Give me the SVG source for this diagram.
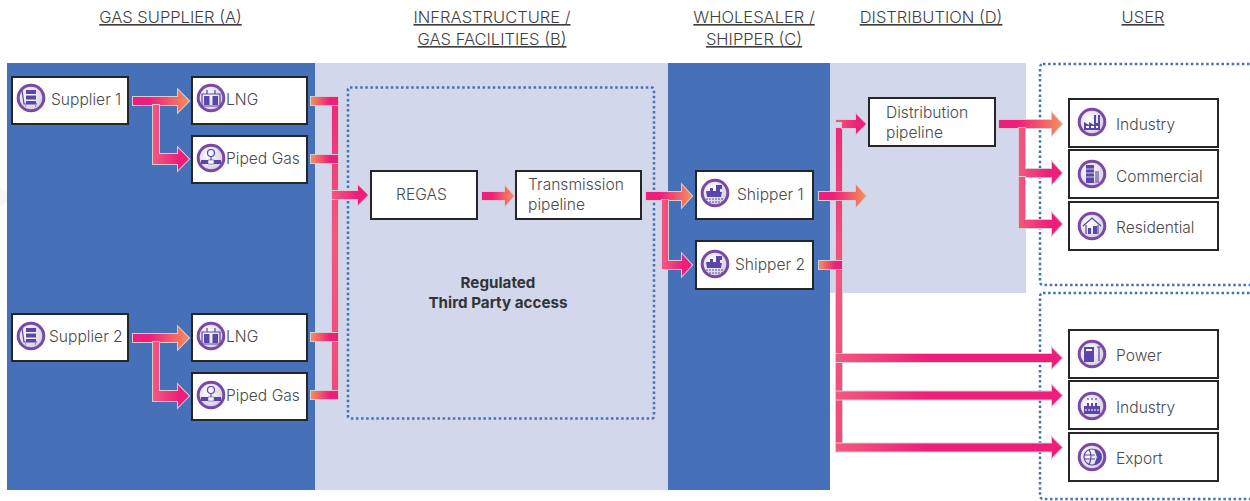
<svg xmlns="http://www.w3.org/2000/svg" width="1250" height="501" viewBox="0 0 1250 501">
<style>
text{font-family:"Inter","Liberation Sans",sans-serif;font-weight:300;font-size:15.6px;fill:#4a4a4a}
.h{font-size:16.5px;text-anchor:middle;text-decoration:underline;fill:#3f3f3f}
.b{font-weight:700;font-size:15.2px;text-anchor:middle;fill:#333}
.box{fill:#fff;stroke:#262626;stroke-width:2}
.dot{fill:none;stroke:#4472b8;stroke-width:2.5;stroke-dasharray:2.5 2.6}
.c{stroke:#d4ced2;stroke-width:2;paint-order:stroke}
.po{fill:url(#po)}.op{fill:url(#op)}.lp{fill:url(#lp)}.ll{fill:url(#ll)}.v{fill:url(#v)}
.g{fill:#5a46a8;stroke:none}.gl{fill:none;stroke:#5a46a8;stroke-width:1.2}
</style>
<defs>
<linearGradient id="po"><stop offset=".3" stop-color="#ee1f7a"/><stop offset="1" stop-color="#f68f59"/></linearGradient>
<linearGradient id="op"><stop offset="0" stop-color="#f68f59"/><stop offset=".7" stop-color="#ee1f7a"/></linearGradient>
<linearGradient id="lp"><stop offset="0" stop-color="#f2597f"/><stop offset=".7" stop-color="#ee1f7a"/></linearGradient>
<linearGradient id="ll"><stop offset="0" stop-color="#f2597f"/><stop offset=".4" stop-color="#ee1f7a"/></linearGradient>
<linearGradient id="v" x1="0" y1="0" x2="0" y2="1"><stop offset="0" stop-color="#ee2a7b"/><stop offset=".45" stop-color="#f2597f"/><stop offset="1" stop-color="#f04a7d"/></linearGradient>
<radialGradient id="disc" cx=".4" cy=".4" r=".75"><stop offset="0" stop-color="#fff"/><stop offset="1" stop-color="#c9c5d6"/></radialGradient>
<g id="ring"><circle r="12.8" fill="url(#disc)" stroke="#7a48a6" stroke-width="3"/></g>
<g id="i-sup"><use href="#ring"/><path class="g" d="M-5-8h10v4h-10zM-5-2.500h10v4h-10zM-5 3h10v3h-10z"/><path class="gl" d="M-9-8l2 14h13M-6 8h1M4 8h1"/></g>
<g id="i-lng"><use href="#ring"/><path class="gl" d="M-9-4h18v12h-18z"/><path class="g" d="M-7-2h5.500v9h-5.500zM1.500-2h5.500v9h-5.500z"/><path class="gl" d="M-4-8v4M4-8v4"/></g>
<g id="i-pipe"><use href="#ring"/><circle cy="-5" r="3.500" class="gl"/><path class="gl" d="M0-1.500v4"/><path class="g" d="M-10 2h7v4h-7zM3 2h7v4h-7z"/><path d="M-3 2h6v4h-6z" fill="#fff" stroke="#5a46a8" stroke-width=".6"/></g>
<g id="i-ship"><use href="#ring"/><path class="g" d="M-9-2h4v-3h3v3h3v-6h6v4h-2v3h2l-1 5h-14z"/><path class="gl" d="M-9 6h18M-9 9h18" stroke-dasharray="2 1"/></g>
<g id="i-fact"><use href="#ring"/><path class="g" d="M-8 8v-8l5 3v-3l5 3v-10h2v8h2v-8h2v15z"/><path d="M-6 4h3v2h-3zM-1 4h3v2h-3zM4 4h2v2h-2z" fill="#fff"/></g>
<g id="i-com"><use href="#ring"/><path class="g" d="M-6-9h8v18h-8z"/><path class="g" opacity=".55" d="M3-3h4v12h-4z"/><path stroke="#fff" stroke-width=".7" d="M-6-5h8M-6-1h8M-6 3h8"/></g>
<g id="i-res"><use href="#ring"/><path class="gl" d="M-9 0l9-8 9 8M-6-1v9M6-1v9"/><path class="g" d="M-4 2h3v6h-3zM1 0h4v8h-4z"/></g>
<g id="i-pow"><use href="#ring"/><path class="g" d="M-8-7h10v15h-10z"/><path d="M-6-5h6v2h-6z" fill="#fff"/><path class="gl" d="M5-7h4M7-7v14"/></g>
<g id="i-ind"><use href="#ring"/><path class="g" d="M-8 8v-8h3v-3h2v3h2v-3h2v3h2v-3h2v3h3v8z"/><path stroke="#fff" stroke-width="1" stroke-dasharray="2 1" d="M-7 4h14"/><path class="gl" d="M-4-8v2M0-8v2M4-8v2"/></g>
<g id="i-exp"><use href="#ring"/><circle r="8" class="gl"/><path class="gl" d="M-3-7.500q4 7 0 15M-8-2h11M-8 2h11"/><path class="g" d="M2-8a8 8 0 0 1 0 16l3-8z"/></g>
</defs>

<rect width="1250" height="501" fill="#fff"/>
<path d="M0 188l7 4v10l-7 5z" fill="#f5f5f6"/>
<g id="bands">
<rect x="7" y="63" width="308" height="427" fill="#4670b8"/>
<rect x="315" y="63" width="353" height="427" fill="#d2d7ec"/>
<rect x="668" y="63" width="162" height="427" fill="#4670b8"/>
<rect x="830" y="63" width="196" height="230" fill="#d2d7ec"/>
<rect class="dot" x="348" y="87.500" width="306" height="331" rx="2"/>
<rect class="dot" x="1040" y="64" width="230" height="221" rx="3"/>
<rect class="dot" x="1040" y="293" width="230" height="206" rx="3"/>
</g>

<g id="headers">
<text class="h" x="170.500" y="23">GAS SUPPLIER (A)</text>
<text class="h" x="492" y="23">INFRASTRUCTURE /</text>
<text class="h" x="492" y="45">GAS FACILITIES (B)</text>
<text class="h" x="754" y="23">WHOLESALER /</text>
<text class="h" x="754" y="45">SHIPPER (C)</text>
<text class="h" x="931" y="23">DISTRIBUTION (D)</text>
<text class="h" x="1143" y="23">USER</text>
</g>

<g id="connectors" class="c">
<path class="v" d="M332 105h6v286h-6z"/>
<path class="op" d="M311 97h27v8h-27z"/>
<path class="op" d="M311 155h27v8h-27z"/>
<path class="op" d="M311 333h27v8h-27z"/>
<path class="op" d="M311 391h27v8h-27z"/>
<path class="lp" d="M332 191h26v-6l10 10-10 10v-6h-26z"/>
<path class="v" d="M836 128h6v323h-6z"/>
<path class="lp" d="M836 120h20v-6l10 10-10 10v-6h-14v-6h-6z"/>
<path class="op" d="M819 261h23v8h-23z"/>
<path class="ll" d="M836 354h216v-6l10 10-10 10v-6h-216z"/>
<path class="ll" d="M836 391.500h216v-6l10 10-10 10v-6h-216z"/>
<path class="ll" d="M836 443.500h216v-6l10 10-10 10v-6h-216z"/>
<path class="po" d="M133 97h45v-7l11 11-11 11v-7h-45z"/>
<path class="lp" d="M153 105h6v49h19v-6l11 11-11 11v-6h-25z"/>
<path class="po" d="M133 334h45v-7l11 11-11 11v-7h-45z"/>
<path class="lp" d="M153 342h6v49h19v-6l11 11-11 11v-6h-25z"/>
<path class="po" d="M482 192h23v-6l9 10-9 10v-6h-23z"/>
<path class="po" d="M646 192h36v-7l10 11-10 11v-7h-36z"/>
<path class="lp" d="M662 200h6v61h14v-7l10 11-10 11v-7h-20z"/>
<path class="po" d="M819 192h37v-7l10 11-10 11v-7h-37z"/>
<path class="po" d="M999 120h53v-7l10 11-10 11v-7h-53z"/>
<path class="lp" d="M1019 128h6v41h27v-7l10 11-10 11v-7h-33z"/>
<path class="lp" d="M1019 177h6v43h27v-7l10 11-10 11v-7h-33z"/>
</g>

<g id="supplier1"><rect class="box" x="12" y="77" width="116" height="47"/><use href="#i-sup" x="31" y="98"/><text x="51" y="105">Supplier 1</text></g>
<g id="lng1"><rect class="box" x="192" y="77" width="115" height="47"/><use href="#i-lng" x="211" y="98"/><text x="226" y="105">LNG</text></g>
<g id="piped1"><rect class="box" x="192" y="136" width="115" height="47"/><use href="#i-pipe" x="211" y="158"/><text x="226" y="164">Piped Gas</text></g>
<g id="supplier2"><rect class="box" x="12" y="314" width="116" height="47"/><use href="#i-sup" x="31" y="336"/><text x="49" y="342">Supplier 2</text></g>
<g id="lng2"><rect class="box" x="192" y="314" width="115" height="47"/><use href="#i-lng" x="211" y="336"/><text x="226" y="342">LNG</text></g>
<g id="piped2"><rect class="box" x="192" y="373" width="115" height="47"/><use href="#i-pipe" x="211" y="395"/><text x="226" y="401">Piped Gas</text></g>
<g id="regas"><rect class="box" x="371" y="171" width="106" height="48"/><text x="396" y="200">REGAS</text></g>
<g id="transmission"><rect class="box" x="516" y="171" width="125" height="48"/><text x="528" y="190">Transmission</text><text x="528" y="210">pipeline</text></g>
<g id="regulated"><text class="b" x="498" y="288">Regulated</text><text class="b" x="498" y="308">Third Party access</text></g>
<g id="shipper1"><rect class="box" x="696" y="171" width="117" height="48"/><use href="#i-ship" x="715" y="193"/><text x="737" y="200">Shipper 1</text></g>
<g id="shipper2"><rect class="box" x="696" y="241" width="117" height="48"/><use href="#i-ship" x="715" y="264"/><text x="735" y="270">Shipper 2</text></g>
<g id="distribution"><rect class="box" x="869" y="98" width="126" height="48"/><text x="886" y="118">Distribution</text><text x="886" y="138">pipeline</text></g>
<g id="u-industry"><rect class="box" x="1069" y="99" width="149" height="48"/><use href="#i-fact" x="1092" y="122"/><text x="1116" y="130">Industry</text></g>
<g id="u-commercial"><rect class="box" x="1069" y="150" width="149" height="48"/><use href="#i-com" x="1092" y="174"/><text x="1116" y="182">Commercial</text></g>
<g id="u-residential"><rect class="box" x="1069" y="202" width="149" height="48"/><use href="#i-res" x="1092" y="226"/><text x="1116" y="233">Residential</text></g>
<g id="u-power"><rect class="box" x="1069" y="330" width="149" height="48"/><use href="#i-pow" x="1092" y="354"/><text x="1116" y="361">Power</text></g>
<g id="u-industry2"><rect class="box" x="1069" y="381" width="149" height="48"/><use href="#i-ind" x="1092" y="406"/><text x="1116" y="413">Industry</text></g>
<g id="u-export"><rect class="box" x="1069" y="433" width="149" height="48"/><use href="#i-exp" x="1092" y="457"/><text x="1116" y="464">Export</text></g>
</svg>
